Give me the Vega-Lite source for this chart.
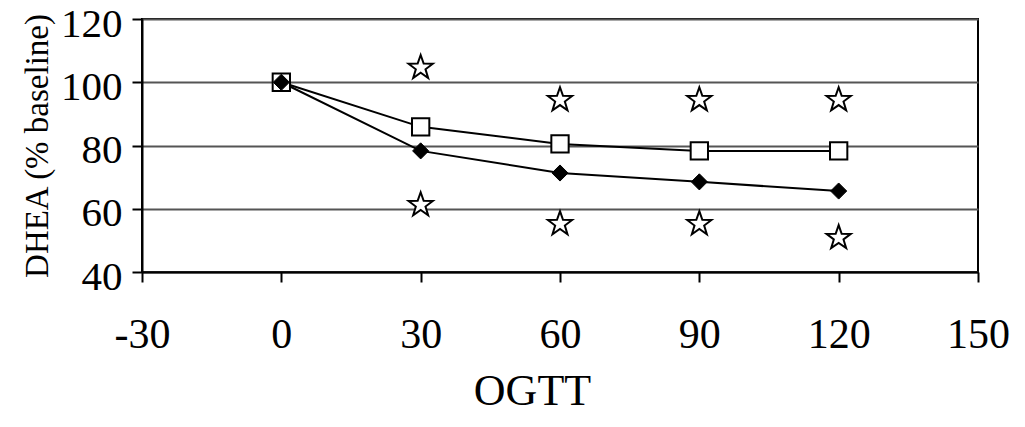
{
  "$schema": "https://vega.github.io/schema/vega-lite/v6.json",
  "width": 836,
  "height": 253,
  "autosize": {"type": "none"},
  "padding": {"left": 142, "top": 19, "right": 47, "bottom": 155},
  "background": "white",
  "config": {
    "view": {"stroke": "black", "strokeWidth": 2},
    "font": "Liberation Serif"
  },
  "data": {
    "values": [
      {"time": 0, "value": 100, "series": "filled"},
      {"time": 30, "value": 78.3, "series": "filled"},
      {"time": 60, "value": 71.3, "series": "filled"},
      {"time": 90, "value": 68.5, "series": "filled"},
      {"time": 120, "value": 65.6, "series": "filled"},
      {"time": 0, "value": 100, "series": "open"},
      {"time": 30, "value": 85.9, "series": "open"},
      {"time": 60, "value": 80.5, "series": "open"},
      {"time": 90, "value": 78.3, "series": "open"},
      {"time": 120, "value": 78.3, "series": "open"},
      {"time": 30, "value": 104.6, "series": "starUpper"},
      {"time": 60, "value": 94.4, "series": "starUpper"},
      {"time": 90, "value": 94.4, "series": "starUpper"},
      {"time": 120, "value": 94.4, "series": "starUpper"},
      {"time": 30, "value": 61.2, "series": "starLower"},
      {"time": 60, "value": 55.2, "series": "starLower"},
      {"time": 90, "value": 55.2, "series": "starLower"},
      {"time": 120, "value": 50.8, "series": "starLower"}
    ]
  },
  "encoding": {
    "x": {
      "field": "time",
      "type": "quantitative",
      "scale": {"domain": [-30, 150], "nice": false, "zero": false},
      "axis": {
        "title": "OGTT",
        "values": [-30, 0, 30, 60, 90, 120, 150],
        "labelExpr": "'' + datum.value",
        "grid": false,
        "domainColor": "black",
        "domainWidth": 2,
        "tickColor": "black",
        "tickWidth": 2,
        "tickSize": 10,
        "labelFont": "Liberation Serif",
        "labelFontSize": 42,
        "labelColor": "black",
        "labelPadding": 32,
        "labelFlush": false,
        "titleFont": "Liberation Serif",
        "titleFontSize": 44,
        "titleFontWeight": "normal",
        "titleColor": "black",
        "titlePadding": 14,
        "titleX": 390
      }
    },
    "y": {
      "field": "value",
      "type": "quantitative",
      "scale": {"domain": [40, 120], "nice": false, "zero": false},
      "axis": {
        "title": "DHEA (% baseline)",
        "values": [40, 60, 80, 100, 120],
        "grid": true,
        "gridColor": "#555555",
        "gridWidth": 2,
        "domainColor": "black",
        "domainWidth": 2,
        "tickColor": "black",
        "tickWidth": 2,
        "tickSize": 10,
        "labelFont": "Liberation Serif",
        "labelFontSize": 41,
        "labelColor": "black",
        "labelPadding": 10,
        "labelOffset": 5,
        "labelFlush": false,
        "titleFont": "Liberation Serif",
        "titleFontSize": 33,
        "titleFontWeight": "normal",
        "titleColor": "black",
        "titlePadding": 6
      }
    }
  },
  "layer": [
    {
      "transform": [{"filter": "datum.series === 'open'"}],
      "mark": {"type": "line", "color": "black", "strokeWidth": 2},
      "encoding": {}
    },
    {
      "transform": [{"filter": "datum.series === 'filled'"}],
      "mark": {"type": "line", "color": "black", "strokeWidth": 2},
      "encoding": {}
    },
    {
      "transform": [{"filter": "datum.series === 'open'"}],
      "mark": {"type": "point", "shape": "square", "size": 300, "filled": true, "fill": "white", "stroke": "black", "strokeWidth": 2, "opacity": 1}
    },
    {
      "transform": [{"filter": "datum.series === 'filled'"}],
      "mark": {"type": "point", "shape": "diamond", "size": 260, "filled": true, "fill": "black", "stroke": "black", "strokeWidth": 1, "opacity": 1}
    },
    {
      "transform": [{"filter": "datum.series === 'starUpper' || datum.series === 'starLower'"}],
      "mark": {"type": "point", "shape": "M0,-1 L0.235,-0.324 L0.951,-0.309 L0.38,0.124 L0.588,0.809 L0,0.4 L-0.588,0.809 L-0.38,0.124 L-0.951,-0.309 L-0.235,-0.324 Z", "size": 650, "filled": true, "fill": "white", "stroke": "black", "strokeWidth": 2, "opacity": 1}
    }
  ]
}
